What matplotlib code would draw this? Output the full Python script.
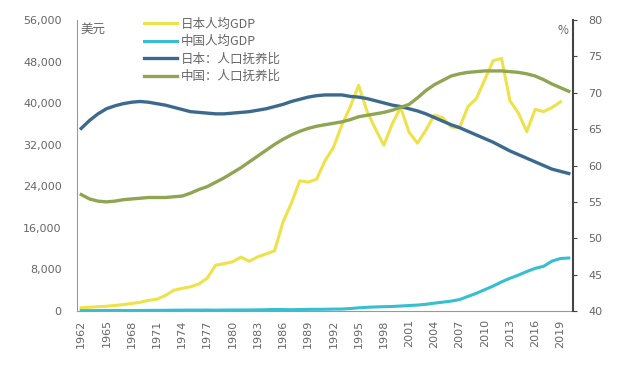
import matplotlib
matplotlib.use("Agg")
import matplotlib.pyplot as plt
import numpy as np

plt.rcParams['font.family'] = ['Noto Sans CJK SC', 'DejaVu Sans']

years = list(range(1962, 2021))
years_jp_gdp = list(range(1962, 2020))

japan_gdp = [633, 718, 836, 919, 1058, 1228, 1450, 1669, 2037, 2272,
             2967, 3997, 4354, 4659, 5197, 6335, 8821, 9105, 9463, 10361,
             9578, 10425, 10984, 11585, 17112, 20745, 25051, 24813, 25371, 28925,
             31465, 35766, 39269, 43440, 38437, 35022, 31903, 36027, 39169, 34406,
             32289, 34808, 37688, 37218, 35434, 35275, 39339, 40855, 44508, 48168,
             48603, 40454, 38109, 34524, 38794, 38387, 39159, 40247]

china_gdp = [70, 74, 85, 98, 104, 96, 91, 100, 113, 119,
             132, 157, 160, 178, 165, 185, 156, 184, 195, 197,
             203, 225, 251, 294, 282, 251, 284, 311, 318, 333,
             367, 377, 473, 610, 709, 782, 829, 873, 959, 1053,
             1149, 1289, 1509, 1700, 1900, 2200, 2800, 3400, 4100, 4800,
             5600, 6300, 6900, 7600, 8200, 8600, 9600, 10100, 10200]

japan_ratio = [65.1, 66.2, 67.1, 67.8, 68.2, 68.5, 68.7, 68.8, 68.7, 68.5,
               68.3, 68.0, 67.7, 67.4, 67.3, 67.2, 67.1, 67.1, 67.2, 67.3,
               67.4, 67.6, 67.8, 68.1, 68.4, 68.8, 69.1, 69.4, 69.6, 69.7,
               69.7, 69.7, 69.5, 69.4, 69.2, 68.9, 68.6, 68.3, 68.1, 67.8,
               67.5, 67.1, 66.6, 66.1, 65.6, 65.2, 64.7, 64.2, 63.7, 63.2,
               62.6, 62.0, 61.5, 61.0, 60.5, 60.0, 59.5, 59.2, 58.9]

china_ratio = [56.0, 55.4, 55.1, 55.0, 55.1, 55.3, 55.4, 55.5, 55.6, 55.6,
               55.6, 55.7, 55.8, 56.2, 56.7, 57.1, 57.7, 58.3, 59.0, 59.7,
               60.5, 61.3, 62.1, 62.9, 63.6, 64.2, 64.7, 65.1, 65.4, 65.6,
               65.8, 66.0, 66.3, 66.7, 66.9, 67.1, 67.3, 67.6, 68.0, 68.4,
               69.3, 70.3, 71.1, 71.7, 72.3, 72.6, 72.8, 72.9, 73.0, 73.0,
               73.0, 72.9, 72.8, 72.6, 72.3, 71.8, 71.2, 70.7, 70.2]

labels = ['日本人均GDP', '中国人均GDP', '日本：人口抚养比', '中国：人口抚养比']
colors = ['#EEE24A', '#35BFD0', '#3C6A8E', '#8FA553']
xticks = list(range(1962, 2020, 3))
left_ticks = list(range(0, 56001, 8000))
right_ticks = list(range(40, 81, 5))

fig = plt.figure(figsize=(6.21, 3.77), dpi=100)
ax = fig.add_axes([77/621, 1-311/377, (573-77)/621, (311-20)/377])
ax2 = ax.twinx()

l1, = ax.plot(years_jp_gdp, japan_gdp, color=colors[0], lw=2.2, label=labels[0])
l2, = ax.plot(years, china_gdp, color=colors[1], lw=2.2, label=labels[1])
l3, = ax2.plot(years, japan_ratio, color=colors[2], lw=2.4, label=labels[2])
l4, = ax2.plot(years, china_ratio, color=colors[3], lw=2.4, label=labels[3])

ax.set_xlim(1961.5, 2020.5)
ax.set_ylim(0, 56000)
ax2.set_ylim(40, 80)
ax.set_yticks(left_ticks)
ax.set_yticklabels([f"{v:,}" for v in left_ticks])
ax2.set_yticks(right_ticks)
ax.set_xticks(xticks)
ax.set_xticklabels([str(y) for y in xticks], rotation=90)

tc = '#666666'
num_font = 'DejaVu Sans'
for a in (ax, ax2):
    a.spines['top'].set_visible(False)
ax.spines['left'].set_color('#999999')
ax.spines['bottom'].set_color('#999999')
ax.spines['right'].set_visible(False)
ax2.spines['left'].set_visible(False)
ax2.spines['bottom'].set_visible(False)
ax2.spines['right'].set_color('#444444')
ax2.spines['right'].set_linewidth(1.5)
ax.tick_params(axis='y', length=0, labelsize=8, labelcolor=tc, pad=11)
ax.tick_params(axis='x', length=0, labelsize=8, labelcolor=tc, pad=6)
ax2.tick_params(axis='y', length=3, direction='out', color='#444444', labelsize=8, labelcolor=tc, pad=8)
for lab in ax.get_xticklabels() + ax.get_yticklabels() + ax2.get_yticklabels():
    lab.set_family(num_font)

ax.text(0.008, 0.99, '美元', transform=ax.transAxes, fontsize=9, color=tc, va='top', ha='left')
ax.text(0.99, 0.985, '%', transform=ax.transAxes, fontsize=8.5, color=tc, va='top', ha='right')

leg = ax.legend(handles=[l1, l2, l3, l4], loc='upper left', bbox_to_anchor=(0.125, 1.025),
                frameon=False, fontsize=9, labelspacing=0.36, handlelength=2.6,
                handletextpad=0.35, borderaxespad=0)
for t in leg.get_texts():
    t.set_color(tc)

fig.savefig('out.png', dpi=100)
